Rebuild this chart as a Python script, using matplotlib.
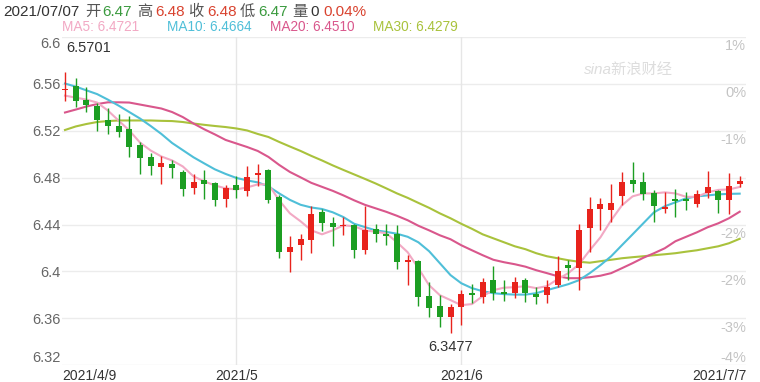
import matplotlib
matplotlib.use('Agg')
import matplotlib.pyplot as plt
import matplotlib.transforms as mtransforms

plt.rcParams['font.family'] = ['Liberation Sans', 'Noto Sans CJK SC', 'DejaVu Sans']

# ==================== datos ====================
fechas = ['2021/4/9', '2021/5', '2021/6', '2021/7/7']
pos_fechas = [0, 16, 37, 63]

apertura = [6.5545, 6.5585, 6.5464, 6.5415, 6.5294, 6.5245, 6.5217, 6.5083, 6.4975, 6.4890,
            6.4919, 6.4848, 6.4716, 6.4777, 6.4754, 6.4615, 6.4742, 6.4683, 6.4820, 6.4862,
            6.4635, 6.4163, 6.4224, 6.4266, 6.4505, 6.4411, 6.4388, 6.4394, 6.4181, 6.4366,
            6.4321, 6.4321, 6.4078, 6.4091, 6.3790, 6.3705, 6.3609, 6.3699, 6.3811, 6.3786,
            6.3929, 6.3829, 6.3815, 6.3929, 6.3807, 6.3798, 6.3886, 6.4054, 6.4026, 6.4371,
            6.4536, 6.4524, 6.4643, 6.4777, 6.4760, 6.4669, 6.4532, 6.4616, 6.4616, 6.4573,
            6.4666, 6.4686, 6.4607, 6.4749]
maximo = [6.5701, 6.5648, 6.5570, 6.5440, 6.5396, 6.5347, 6.5330, 6.5103, 6.5007, 6.4981,
          6.4953, 6.4868, 6.4834, 6.4862, 6.4762, 6.4734, 6.4811, 6.4896, 6.4913, 6.4877,
          6.4653, 6.4299, 6.4317, 6.4561, 6.4533, 6.4467, 6.4466, 6.4408, 6.4561, 6.4402,
          6.4402, 6.4394, 6.4139, 6.4096, 6.3911, 6.3798, 6.3722, 6.3841, 6.3892, 6.3943,
          6.4045, 6.3929, 6.3956, 6.3943, 6.3871, 6.3929, 6.4135, 6.4096, 6.4409, 6.4637,
          6.4627, 6.4743, 6.4851, 6.4933, 6.4851, 6.4692, 6.4677, 6.4707, 6.4677, 6.4694,
          6.4859, 6.4694, 6.4839, 6.4813]
minimo = [6.5450, 6.5400, 6.5360, 6.5200, 6.5175, 6.5150, 6.4973, 6.4828, 6.4820, 6.4743,
          6.4797, 6.4647, 6.4664, 6.4622, 6.4556, 6.4550, 6.4630, 6.4640, 6.4729, 6.4580,
          6.4113, 6.3998, 6.4096, 6.4156, 6.4345, 6.4218, 6.4310, 6.4119, 6.4147, 6.4252,
          6.4224, 6.4019, 6.3883, 6.3705, 6.3613, 6.3528, 6.3477, 6.3543, 6.3733, 6.3733,
          6.3758, 6.3749, 6.3773, 6.3744, 6.3722, 6.3733, 6.3871, 6.3926, 6.3841, 6.4167,
          6.4351, 6.4425, 6.4570, 6.4677, 6.4607, 6.4425, 6.4496, 6.4467, 6.4524, 6.4553,
          6.4624, 6.4496, 6.4488, 6.4724]
cierre = [6.5555, 6.5458, 6.5424, 6.5288, 6.5240, 6.5190, 6.5060, 6.4967, 6.4896, 6.4924,
          6.4882, 6.4707, 6.4763, 6.4743, 6.4607, 6.4708, 6.4692, 6.4805, 6.4840, 6.4613,
          6.4163, 6.4207, 6.4278, 6.4493, 6.4411, 6.4377, 6.4400, 6.4187, 6.4357, 6.4323,
          6.4307, 6.4078, 6.4096, 6.3784, 6.3685, 6.3609, 6.3694, 6.3807, 6.3803, 6.3913,
          6.3820, 6.3807, 6.3909, 6.3815, 6.3786, 6.3871, 6.4000, 6.4026, 6.4351, 6.4536,
          6.4579, 6.4588, 6.4760, 6.4749, 6.4658, 6.4556, 6.4547, 6.4599, 6.4607, 6.4658,
          6.4718, 6.4607, 6.4726, 6.4771]

ma5 = [6.5500, 6.5483, 6.5466, 6.5441, 6.5373, 6.5288, 6.5203, 6.5100, 6.5032, 6.4981,
       6.4947, 6.4896, 6.4811, 6.4769, 6.4734, 6.4709, 6.4700, 6.4717, 6.4743, 6.4743,
       6.4607, 6.4496, 6.4428, 6.4351, 6.4317, 6.4351, 6.4394, 6.4386, 6.4351, 6.4339,
       6.4326, 6.4249, 6.4164, 6.4028, 6.3883, 6.3798, 6.3756, 6.3713, 6.3722, 6.3790,
       6.3841, 6.3862, 6.3866, 6.3875, 6.3858, 6.3875, 6.3934, 6.3986, 6.4062, 6.4181,
       6.4292, 6.4437, 6.4564, 6.4641, 6.4666, 6.4666, 6.4675, 6.4666, 6.4637, 6.4637,
       6.4675, 6.4696, 6.4700, 6.4721]
ma10 = [6.5603, 6.5577, 6.5545, 6.5513, 6.5466, 6.5415, 6.5360, 6.5305, 6.5241, 6.5173,
        6.5096, 6.5035, 6.4974, 6.4922, 6.4871, 6.4832, 6.4798, 6.4777, 6.4760, 6.4726,
        6.4666, 6.4611, 6.4569, 6.4546, 6.4533, 6.4505, 6.4464, 6.4407, 6.4379, 6.4351,
        6.4338, 6.4322, 6.4296, 6.4249, 6.4173, 6.4071, 6.3969, 6.3900, 6.3858, 6.3832,
        6.3815, 6.3807, 6.3803, 6.3803, 6.3815, 6.3841, 6.3866, 6.3892, 6.3926, 6.3986,
        6.4054, 6.4130, 6.4224, 6.4317, 6.4411, 6.4505, 6.4556, 6.4590, 6.4624, 6.4641,
        6.4649, 6.4658, 6.4662, 6.4664]
ma20 = [6.5356, 6.5381, 6.5407, 6.5428, 6.5443, 6.5443, 6.5441, 6.5424, 6.5407, 6.5390,
        6.5360, 6.5317, 6.5262, 6.5213, 6.5169, 6.5122, 6.5092, 6.5062, 6.5028, 6.4977,
        6.4909, 6.4849, 6.4803, 6.4756, 6.4722, 6.4688, 6.4649, 6.4607, 6.4569, 6.4539,
        6.4509, 6.4475, 6.4437, 6.4390, 6.4351, 6.4309, 6.4275, 6.4224, 6.4181, 6.4139,
        6.4100, 6.4079, 6.4062, 6.4041, 6.4011, 6.3986, 6.3960, 6.3943, 6.3943, 6.3951,
        6.3964, 6.3986, 6.4028, 6.4071, 6.4117, 6.4156, 6.4198, 6.4258, 6.4296, 6.4334,
        6.4377, 6.4411, 6.4454, 6.4510]
ma30 = [6.5207, 6.5237, 6.5258, 6.5275, 6.5283, 6.5288, 6.5288, 6.5288, 6.5288, 6.5285,
        6.5283, 6.5275, 6.5262, 6.5251, 6.5241, 6.5232, 6.5220, 6.5203, 6.5173, 6.5147,
        6.5105, 6.5066, 6.5028, 6.4986, 6.4947, 6.4905, 6.4866, 6.4828, 6.4790, 6.4751,
        6.4709, 6.4666, 6.4628, 6.4585, 6.4543, 6.4496, 6.4454, 6.4407, 6.4364, 6.4317,
        6.4283, 6.4249, 6.4215, 6.4190, 6.4156, 6.4130, 6.4113, 6.4096, 6.4083, 6.4075,
        6.4088, 6.4100, 6.4113, 6.4122, 6.4130, 6.4139, 6.4147, 6.4156, 6.4169, 6.4181,
        6.4198, 6.4215, 6.4241, 6.4279]

niveles = [6.32, 6.36, 6.40, 6.44, 6.48, 6.52, 6.56, 6.60]
etiquetas_izq = ['6.32', '6.36', '6.4', '6.44', '6.48', '6.52', '6.56', '6.6']
etiquetas_der = ['-4%', '-3%', '-2%', '-2%', '', '-1%', '0%', '1%']

# ==================== colores ====================
ROJO = '#e8231c'
VERDE = '#1c9e22'
C_MA5 = '#f2a9c4'
C_MA10 = '#4fbfd8'
C_MA20 = '#d9578c'
C_MA30 = '#a9c23c'

W, H = 760, 382
fig = plt.figure(figsize=(W / 100, H / 100), dpi=100)
ax = fig.add_axes([62 / W, 1 - 365.3 / H, (746 - 62) / W, (365.3 - 37) / H])
ax.set_xlim(-0.28, 63.59)
ax.set_ylim(6.32, 6.60)

# rejilla
for n in niveles:
    ax.axhline(n, color='#ececec', lw=1, zorder=0)
for p in pos_fechas[1:3]:
    ax.axvline(p, color='#e6e6e6', lw=1, zorder=0)

# medias moviles
x = list(range(len(cierre)))
ax.plot(x, ma30, color=C_MA30, lw=1.5, zorder=2)
ax.plot(x, ma20, color=C_MA20, lw=1.5, zorder=2)
ax.plot(x, ma10, color=C_MA10, lw=1.5, zorder=2)
ax.plot(x, ma5, color=C_MA5, lw=1.5, zorder=2)

# velas
for i in x:
    o, h, l, c = apertura[i], maximo[i], minimo[i], cierre[i]
    col = ROJO if c >= o else VERDE
    ax.vlines(i, l, h, color=col, lw=1, zorder=3)
    alto = max(abs(c - o), 0.0012)
    base = min(o, c) if abs(c - o) >= 0.0012 else (o + c) / 2 - 0.0006
    ax.bar(i, alto, bottom=base, width=0.56, color=col, zorder=4, linewidth=0)

# maximo y minimo
i_max = maximo.index(max(maximo))
i_min = minimo.index(min(minimo))
ax.annotate(f'{max(maximo):.4f}', (i_max, max(maximo)), xytext=(1, 12), textcoords='offset points',
            fontsize=10.5, color='#333333', ha='left', va='bottom')
ax.annotate(f'{min(minimo):.4f}', (i_min, min(minimo)), xytext=(0, -5), textcoords='offset points',
            fontsize=10.5, color='#333333', ha='center', va='top')

# ejes
for s in ax.spines.values():
    s.set_visible(False)
ax.set_yticks(niveles)
ax.set_yticklabels(etiquetas_izq, fontsize=10.5, color='#666666')
ax.tick_params(axis='y', length=0, pad=1)
lbls = ax.get_yticklabels()
lbls[0].set_va('bottom')
lbls[-1].set_va('top')
ax.set_xticks(pos_fechas)
ax.set_xticklabels(fechas, fontsize=10, color='#333333')
ax.tick_params(axis='x', length=0, pad=3)
xl = ax.get_xticklabels()
xl[0].set_ha('left')
xl[-1].set_ha('right')
trans_x0 = mtransforms.offset_copy(xl[0].get_transform(), fig=fig, x=-3, y=0, units='dots')
xl[0].set_transform(trans_x0)
trans_x3 = mtransforms.offset_copy(xl[-1].get_transform(), fig=fig, x=7, y=0, units='dots')
xl[-1].set_transform(trans_x3)

# porcentajes a la derecha
tr = mtransforms.blended_transform_factory(ax.transAxes, ax.transData)
for n, e in zip(niveles, etiquetas_der):
    if not e:
        continue
    if n == niveles[0]:
        ax.text(1.0, n, e, transform=tr, ha='right', va='bottom', fontsize=10.5, color='#c4c4c4')
    else:
        ax.text(1.0, n - 0.002, e, transform=tr, ha='right', va='top', fontsize=10.5, color='#c4c4c4')

# marca de agua
fig.text(628 / W, 1 - 70 / H, 'sina新浪财经', fontsize=11, color='#dddddd', style='italic',
         ha='center', va='center')

# cabecera
cab = [('2021/07/07', 3, '#333333'), ('开', 85, '#555555'), ('6.47', 102, '#3a9a3e'),
       ('高', 137, '#555555'), ('6.48', 155, '#d9432f'), ('收', 188, '#555555'),
       ('6.48', 207, '#d9432f'), ('低', 240, '#555555'), ('6.47', 258, '#3a9a3e'),
       ('量', 292, '#555555'), ('0', 310, '#333333'), ('0.04%', 323, '#d9432f')]
for t, px, col in cab:
    fig.text(px / W, 1 - 12 / H, t, fontsize=11, color=col, ha='left', va='center')

ley = [('MA5: 6.4721', 62, C_MA5), ('MA10: 6.4664', 167, C_MA10),
       ('MA20: 6.4510', 270, C_MA20), ('MA30: 6.4279', 373, C_MA30)]
for t, px, col in ley:
    fig.text(px / W, 1 - 27 / H, t, fontsize=9.8, color=col, ha='left', va='center')

fig.savefig('out.png', dpi=100)
